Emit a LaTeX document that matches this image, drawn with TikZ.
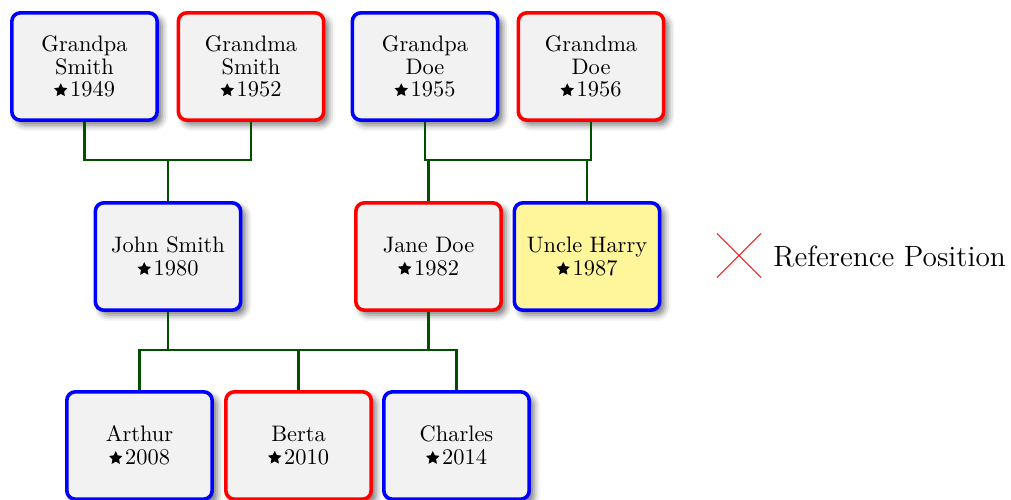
\documentclass[tikz,border=0pt]{standalone}
\usepackage{fontspec}
\usetikzlibrary{shadows.blur}
\definecolor{harryfill}{RGB}{255,245,155}
\definecolor{linkgreen}{RGB}{0,80,0}
\newcommand{\bornstar}{\pgfpicture\pgfsetbaseline{0pt}\pgfsetcornersarced{\pgfpointorigin}\pgfsetfillcolor{black}%
  \pgfpathmoveto{\pgfpoint{0pt}{6.0pt}}%
  \pgfpathlineto{\pgfpoint{-0.911pt}{4.104pt}}%
  \pgfpathlineto{\pgfpoint{-2.996pt}{3.823pt}}%
  \pgfpathlineto{\pgfpoint{-1.474pt}{2.371pt}}%
  \pgfpathlineto{\pgfpoint{-1.852pt}{0.302pt}}%
  \pgfpathlineto{\pgfpoint{0pt}{1.30pt}}%
  \pgfpathlineto{\pgfpoint{1.852pt}{0.302pt}}%
  \pgfpathlineto{\pgfpoint{1.474pt}{2.371pt}}%
  \pgfpathlineto{\pgfpoint{2.996pt}{3.823pt}}%
  \pgfpathlineto{\pgfpoint{0.911pt}{4.104pt}}%
  \pgfpathclose\pgfusepath{fill}\endpgfpicture\kern1.2pt}
\tikzset{
  person/.style={draw, rounded corners=3.8pt, line width=1.6pt, fill=gray!10,
    minimum width=64.9pt, minimum height=47.9pt, inner sep=0pt, align=center,
    font=\fontsize{10}{10.1}\selectfont,
    blur shadow={shadow xshift=2.1pt, shadow yshift=-2.1pt, shadow blur radius=2.8pt, shadow opacity=55}},
  male/.style={person, draw=blue},
  female/.style={person, draw=red},
  link/.style={draw=linkgreen, line width=1.05pt},
}
\begin{document}
\begin{tikzpicture}[x=0.4464pt,y=-0.4464pt]
\useasboundingbox (0,0) rectangle (1011,499);
% grandparents
\node[male]   (gps) at (84.5,66.5) {Grandpa\\Smith\\\bornstar1949};
\node[female] (gms) at (251,66.5)  {Grandma\\Smith\\\bornstar1952};
\node[male]   (gpd) at (425,66.5)  {Grandpa\\Doe\\\bornstar1955};
\node[female] (gmd) at (591,66.5)  {Grandma\\Doe\\\bornstar1956};
% parents
\node[male]   (john)  at (168,256.5)   {John Smith\\\bornstar1980};
\node[female] (jane)  at (428.5,256.5) {Jane Doe\\\bornstar1982};
\node[male, fill=harryfill] (harry) at (587,256.5) {Uncle Harry\\\bornstar1987};
% children
\node[male]   (arthur)  at (139.5,445.5) {Arthur\\\bornstar2008};
\node[female] (berta)   at (298.5,445.5) {Berta\\\bornstar2010};
\node[male]   (charles) at (456.5,445.5) {Charles\\\bornstar2014};
% connectors
\coordinate (sm) at (168,160);
\coordinate (dl) at (425,160);
\coordinate (dr) at (591,160);
\coordinate (fl) at (139.5,350);
\coordinate (fr) at (456.5,350);
\draw[link] (gps.south) |- (sm) -| (gms.south);
\draw[link] (sm) -- (john.north);
\draw[link] (gpd.south) -- (dl) -- (dr) -- (gmd.south);
\draw[link] (jane.north) -- (jane.north |- dl);
\draw[link] (harry.north) -- (harry.north |- dr);
\draw[link] (arthur.north) -- (fl) -- (fr) -- (charles.north);
\draw[link] (john.south) -- (john.south |- fl);
\draw[link] (jane.south) -- (jane.south |- fl);
\draw[link] (berta.north) -- (berta.north |- fl);
% reference position
\coordinate (refpos) at (739,255.5);
\draw[red, line width=0.45pt] (refpos) +(-22,-22) -- +(22,22) (refpos) +(-22,22) -- +(22,-22);
\node[anchor=base west, inner sep=0pt, font=\fontsize{13.1}{15}\selectfont] (reflabel) at (773,266) {Reference Position};
\end{tikzpicture}
\end{document}
